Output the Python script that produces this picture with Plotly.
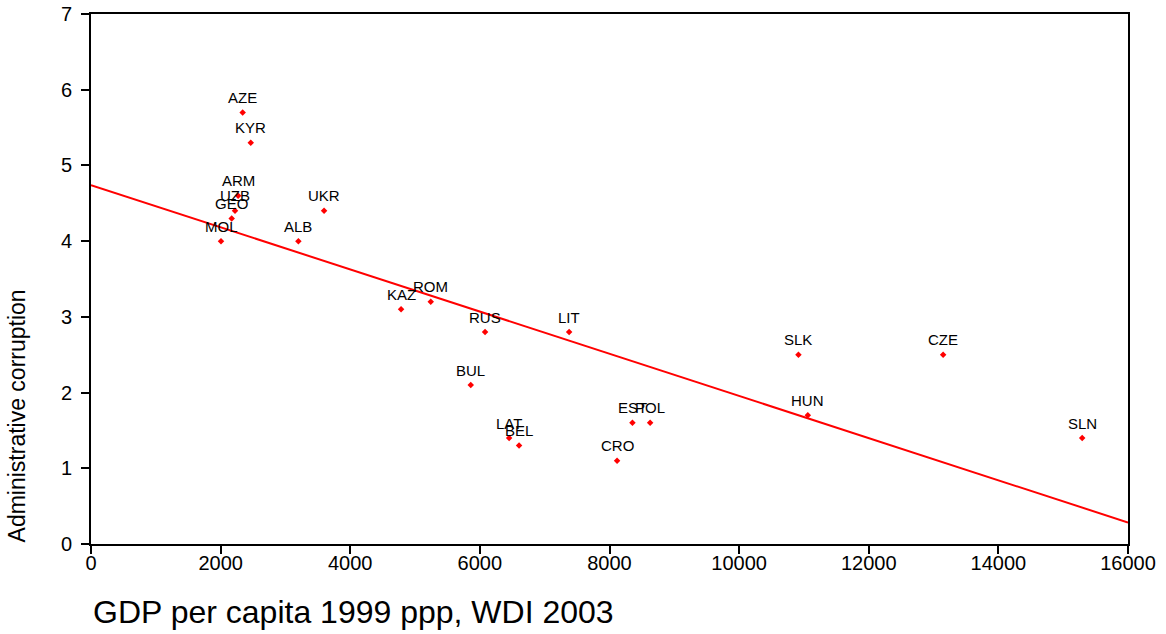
import numpy as np
import plotly.graph_objects as go

countries = ["AZE", "KYR", "ARM", "UZB", "GEO", "MOL", "ALB", "UKR", "KAZ", "ROM",
             "RUS", "LIT", "BUL", "LAT", "BEL", "EST", "POL", "CRO", "SLK", "CZE",
             "HUN", "SLN"]
gdp = [2340, 2465, 2270, 2222, 2171, 2006, 3200, 3596, 4784, 5242,
       6080, 7377, 5859, 6451, 6605, 8354, 8627, 8117, 10915, 13148,
       11060, 15293]
corruption = [5.7, 5.3, 4.6, 4.4, 4.3, 4.0, 4.0, 4.4, 3.1, 3.2,
              2.8, 2.8, 2.1, 1.4, 1.3, 1.6, 1.6, 1.1, 2.5, 2.5,
              1.7, 1.4]
x_ticks = list(range(0, 16001, 2000))
y_ticks = list(range(0, 8))

slope, intercept = np.polyfit(gdp, corruption, 1)
line_x = [0, 16000]
line_y = [intercept + slope * v for v in line_x]

FONT = "Liberation Sans, Arial, Helvetica, sans-serif"

fig = go.Figure()
fig.add_trace(go.Scatter(x=line_x, y=line_y, mode="lines",
                         line=dict(color="#ff0000", width=2), hoverinfo="skip"))
fig.add_trace(go.Scatter(x=gdp, y=corruption, mode="markers",
                         marker=dict(symbol="diamond", size=5, color="#ff0000")))

annotations = []
for c, gx, cy in zip(countries, gdp, corruption):
    annotations.append(dict(x=gx, y=cy, text=c, showarrow=False, xanchor="center",
                            yanchor="middle", yshift=15,
                            font=dict(family=FONT, size=15, color="black")))

axis_common = dict(showgrid=False, zeroline=False, showline=True, linecolor="black",
                   linewidth=2, mirror=True, ticks="outside", ticklen=8, tickwidth=2,
                   tickcolor="black", automargin=False, ticklabeloverflow="allow",
                   tickfont=dict(family=FONT, size=20, color="black"))
fig.update_xaxes(range=[0, 16000], tickvals=x_ticks, ticktext=[str(v) for v in x_ticks],
                 ticklabelstandoff=-8, **axis_common)
fig.update_yaxes(range=[0, 7], tickvals=y_ticks, ticktext=[str(v) for v in y_ticks],
                 ticklabelstandoff=5, **axis_common)

annotations += [
    dict(text="GDP per capita 1999 ppp, WDI 2003", xref="paper", yref="paper",
         x=0, y=-0.128, xanchor="left", yanchor="middle", showarrow=False,
         font=dict(family=FONT, size=32, color="black")),
    dict(text="Administrative corruption", xref="paper", yref="paper",
         x=-0.0714, y=0.0, xanchor="center", yanchor="bottom", textangle=-90,
         showarrow=False,
         font=dict(family=FONT, size=23, color="black")),
]

fig.update_layout(
    width=1166, height=634, showlegend=False,
    plot_bgcolor="white", paper_bgcolor="white",
    margin=dict(l=91, r=38, t=14, b=90, autoexpand=False),
    annotations=annotations,
)

fig.write_html(
    "out.html",
    config={"displayModeBar": False},
    post_script="document.body.style.margin='0';document.documentElement.style.overflow='hidden';",
)
